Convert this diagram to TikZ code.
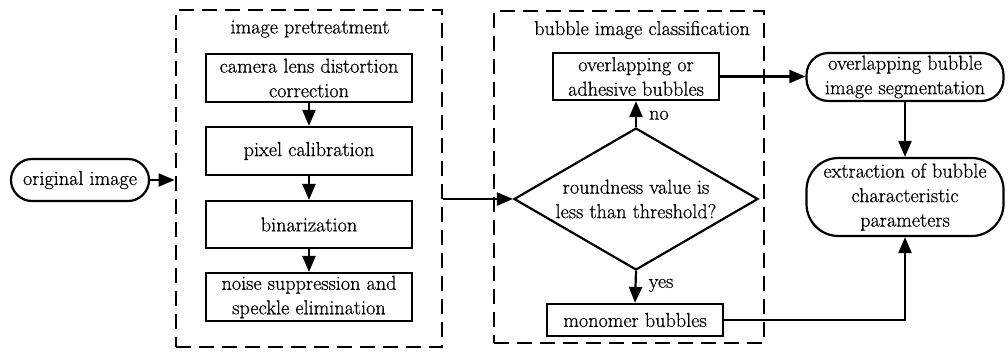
\documentclass[tikz,border=0pt]{standalone}
\usepackage{fontspec}
\setmainfont{Latin Modern Roman}[FakeBold=0.6]
\usetikzlibrary{arrows.meta,shapes.geometric}
\begin{document}
\begin{tikzpicture}[x=1pt,y=-1pt,
  every node/.style={font=\fontsize{20.2}{24.5}\selectfont},
  stepbox/.style={draw,line width=2.2pt,inner sep=0pt,align=center},
  termbox/.style={draw,line width=2.2pt,inner sep=0pt,align=center},
  groupbox/.style={draw,line width=2.8pt,dash pattern=on 15pt off 8pt,inner sep=0pt},
  conn/.style={line width=2.2pt,-{Triangle[length=16pt,width=13pt]}},
  lbl/.style={inner sep=0pt,anchor=west}]
\useasboundingbox (0,0) rectangle (1008,351);
% groups
\node[groupbox,minimum width=266pt,minimum height=337pt] (pre) at (309,178.5) {};
\node[inner sep=0pt] (pretitle) at (310,29) {image pretreatment};
\node[groupbox,minimum width=270pt,minimum height=332pt] (cls) at (629,177) {};
\node[inner sep=0pt] (clstitle) at (642,30) {bubble image classification};
% left
\node[termbox,rounded corners=21pt,minimum width=138pt,minimum height=42pt] (orig) at (80,180) {original image};
\node[stepbox,minimum width=206pt,minimum height=48pt] (b1) at (309,78) {camera lens distortion\\correction};
\node[stepbox,minimum width=206pt,minimum height=48pt] (b2) at (309,151) {pixel calibration};
\node[stepbox,minimum width=206pt,minimum height=47pt] (b3) at (309,224.5) {binarization};
\node[stepbox,minimum width=206pt,minimum height=48pt] (b4) at (309,297) {noise suppression and\\speckle elimination};
% classification
\node[stepbox,minimum width=166pt,minimum height=47pt] (ov) at (636,76.5) {overlapping or\\adhesive bubbles};
\node[draw,diamond,line width=2.2pt,inner sep=0pt,aspect=1.72,minimum width=244pt,minimum height=142pt,align=center] (dia) at (636,199) {roundness value is\\less than threshold?};
\node[stepbox,minimum width=176pt,minimum height=32pt] (mono) at (635,320) {monomer bubbles};
% right
\node[termbox,rounded corners=22pt,minimum width=197pt,minimum height=48pt] (seg) at (905,77) {overlapping bubble\\image segmentation};
\node[termbox,rounded corners=32pt,minimum width=197pt,minimum height=78pt] (ext) at (905,197) {extraction of bubble\\characteristic\\parameters};
% connectors
\draw[conn] (orig.east) -- (orig.east -| pre.west);
\draw[conn] (b1) -- (b2);
\draw[conn] (b2) -- (b3);
\draw[conn] (b3) -- (b4);
\draw[conn] (pre.east |- dia.west) -- (dia.west);
\draw[conn] (dia.north) -- (ov.south) node[lbl,pos=0.45,xshift=12pt] {no};
\draw[conn] (dia.south) -- (mono.north) node[lbl,pos=0.45,xshift=12pt] {yes};
\draw[conn] (ov.east) -- (ov.east -| seg.west);
\draw[conn] (seg.south) -- (ext.north);
\draw[conn] (mono.east) -| (ext.south);
\end{tikzpicture}
\end{document}
